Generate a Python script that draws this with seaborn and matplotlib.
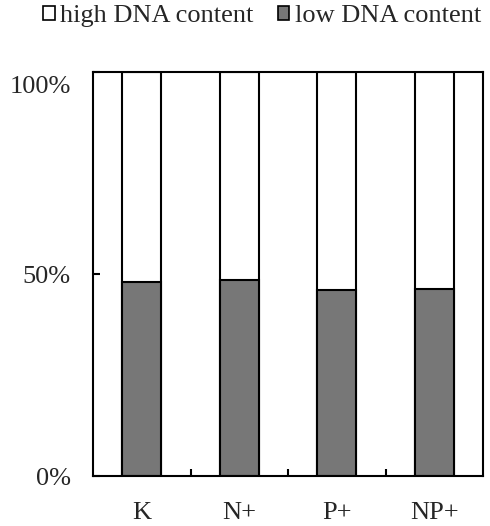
import matplotlib
matplotlib.use('Agg')
import matplotlib.pyplot as plt
import matplotlib.transforms as mtransforms
import seaborn as sns
import pandas as pd
from matplotlib.patches import Patch
from matplotlib.ticker import FixedLocator

# data (percent of cells)
groups = ['K', 'N+', 'P+', 'NP+']
low_dna = [48.1, 48.5, 46.1, 46.2]
high_dna = [100 - v for v in low_dna]

sns.set_theme(style='white')
plt.rcParams['font.family'] = ['Liberation Serif', 'DejaVu Serif']

df = pd.DataFrame({'group': groups, 'low': low_dna, 'high': high_dna})
df['total'] = df['low'] + df['high']

fig = plt.figure(figsize=(4.9, 5.26), dpi=100)
ax = fig.add_axes([0.190, 0.095, 0.796, 0.768])

gray = '#777777'
sns.barplot(data=df, x='group', y='total', color='white', edgecolor='black',
            linewidth=1.5, width=0.4, saturation=1, ax=ax)
sns.barplot(data=df, x='group', y='low', color=gray, edgecolor='black',
            linewidth=1.5, width=0.4, saturation=1, ax=ax)

ax.set_xlim(-0.5, 3.5)
ax.set_ylim(0, 100)
ax.set_xlabel('')
ax.set_ylabel('')
ax.set_yticks([0, 50, 100])
ax.set_yticklabels(['0%', '50%', '100%'])
ax.xaxis.set_minor_locator(FixedLocator([0.5, 1.5, 2.5]))
ax.tick_params(axis='x', which='major', length=0, pad=19, labelsize=19)
ax.tick_params(axis='x', which='minor', direction='in', length=5, width=1.5,
               color='black', bottom=True)
ax.tick_params(axis='y', direction='in', length=5, width=1.5, color='black',
               left=True, pad=16, labelsize=19)
# the top label sits a little below the frame, as in the original
top_lab = ax.get_yticklabels()[-1]
top_lab.set_transform(top_lab.get_transform() +
                      mtransforms.ScaledTranslation(0, -9 / 72, fig.dpi_scale_trans))
for s in ax.spines.values():
    s.set_visible(True)
    s.set_color('black')
    s.set_linewidth(1.5)

handles = [Patch(facecolor='white', edgecolor='black', linewidth=1.2, label='high DNA content'),
           Patch(facecolor=gray, edgecolor='black', linewidth=1.2, label='low DNA content')]
fig.legend(handles=handles, loc='upper center', bbox_to_anchor=(0.535, 1.01), ncol=2,
           frameon=False, fontsize=19, handlelength=0.45, handleheight=0.45,
           handletextpad=0.2, columnspacing=0.9, borderaxespad=0)

fig.savefig('out.png', dpi=100, facecolor='white')
